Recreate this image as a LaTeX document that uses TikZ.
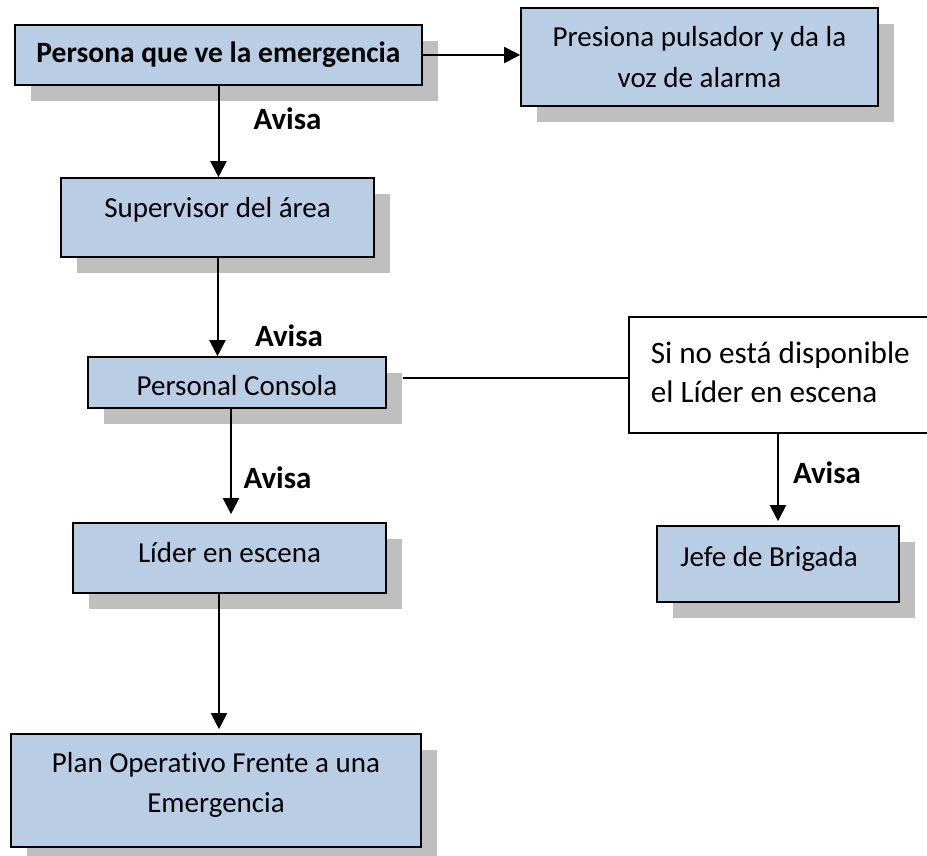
\documentclass[tikz,border=0pt]{standalone}
\usepackage{fontspec}
\setmainfont{Carlito}[Ligatures={NoCommon}]
\usetikzlibrary{arrows.meta,shadows}
\definecolor{boxblue}{RGB}{185,205,229}
\definecolor{shadowgray}{RGB}{191,191,191}
\begin{document}
\begin{tikzpicture}[x=1pt,y=-1pt,
  mbox/.style={draw=black, line width=1.6pt, fill=boxblue,
    general shadow={fill=shadowgray, draw=none, shadow xshift=16pt, shadow yshift=-16pt},
    inner sep=0pt, font=\fontsize{29}{41}\selectfont},
  box/.style={mbox, text height=20pt, text depth=4pt},
  sibox/.style={draw=black, line width=1.6pt, fill=white, anchor=west, align=left,
    inner xsep=22pt, inner ysep=0pt, minimum height=116pt,
    font=\fontsize{31.2}{39}\selectfont},
  avisa/.style={font=\fontsize{31}{37}\selectfont\bfseries, inner sep=0pt},
  arr/.style={line width=2pt, -{Triangle[length=16pt,width=16pt]}},
  thinline/.style={line width=1.2pt}]
\clip (0,0) rectangle (927,856);
\fill[white] (0,0) rectangle (927,856);

\node[box, minimum width=407pt, minimum height=60pt, font=\fontsize{29.5}{41}\selectfont\bfseries] (p1) at (218.5,55) {Persona que ve la emergencia};
\node[mbox, minimum width=357pt, minimum height=98pt, align=center] (p2) at (699.5,57) {Presiona pulsador y da la\\voz de alarma};
\node[box, minimum width=313pt, minimum height=79pt, text depth=20pt] (sup) at (217.5,217.5) {Supervisor del área};
\node[box, minimum width=298pt, minimum height=51pt, text height=30pt] (pc) at (237,382.5) {Personal Consola};
\node[box, minimum width=313pt, minimum height=70pt, text depth=12pt] (lid) at (229.5,558) {Líder en escena};
\node[mbox, minimum width=410pt, minimum height=113pt, align=center, font=\fontsize{29}{40}\selectfont] (plan) at (216,790.5) {Plan Operativo Frente a una\\Emergencia\rule[-16pt]{0pt}{0pt}};
\node[box, minimum width=242pt, minimum height=76pt, text depth=16pt] (jefe) at (778,564) {Jefe de Brigada\hspace*{18pt}};
\node[sibox] (si) at (628,375) {Si no está disponible\\el Líder en escena\rule[-6pt]{0pt}{0pt}};

\node[avisa] (av1) at (287.5,119) {Avisa};
\node[avisa] (av2) at (289,336) {Avisa};
\node[avisa] (av3) at (277.5,477.5) {Avisa};
\node[avisa] (av4) at (827,473) {Avisa};

\draw[arr] (p1.east) -- (p1.east -| p2.west);
\draw[arr] (p1.south) -- (p1.south |- sup.north);
\draw[arr] (sup.south) -- (sup.south |- pc.north);
\draw[arr, shorten >=8pt] ([xshift=-6pt]pc.south) -- ([xshift=-6pt]pc.south |- lid.north);
\draw[arr, shorten >=4pt] ([xshift=-10.5pt]lid.south) -- ([xshift=-10.5pt]lid.south |- plan.north);
\draw[arr, shorten >=4pt] (si.south -| jefe.north) -- (jefe.north);
\draw[thinline, shorten <=16pt] ([yshift=4.5pt]pc.east) -- ([yshift=4.5pt]pc.east -| si.west);
\end{tikzpicture}
\end{document}
